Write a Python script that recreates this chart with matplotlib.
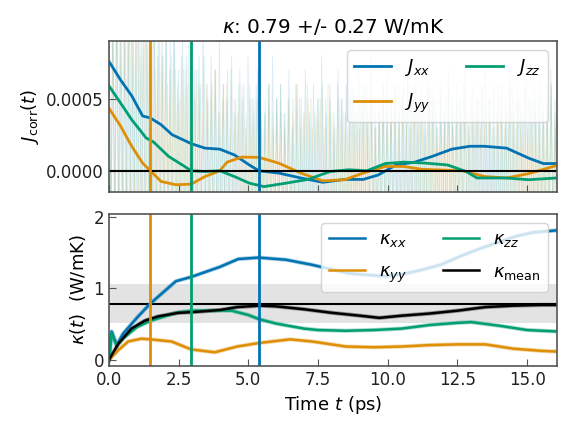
import numpy as np
import matplotlib
matplotlib.use("Agg")
import matplotlib.pyplot as plt

# ─────────────────────────────────────────────
# Data
# ─────────────────────────────────────────────
T_MAX = 16.07
KAPPA = 0.79
KAPPA_ERR = 0.27
CUTOFFS = {"xx": 5.38, "yy": 1.49, "zz": 2.95}

# smoothed heat-flux autocorrelation
t_jxx = [0.0, 0.42, 0.82, 1.21, 1.49, 1.87, 2.27, 2.66, 2.95, 3.45, 3.98, 4.5, 5.04, 5.38,
         6.09, 6.88, 7.67, 8.46, 9.12, 9.65, 10.3, 10.97, 11.6, 12.3, 12.95, 13.47, 14.26,
         15.05, 15.58, 16.07]
j_xx = [7.6e-4, 6.3e-4, 5.2e-4, 3.8e-4, 3.66e-4, 3.2e-4, 2.5e-4, 2.15e-4, 1.88e-4, 1.57e-4,
        1.5e-4, 1.1e-4, 0.4e-4, 0.0, -0.16e-4, -0.5e-4, -0.8e-4, -0.6e-4, -0.6e-4, -0.3e-4,
        0.4e-4, 0.6e-4, 1.0e-4, 1.5e-4, 1.7e-4, 1.7e-4, 1.57e-4, 0.88e-4, 0.5e-4, 0.5e-4]

t_jyy = [0.0, 0.42, 0.82, 1.21, 1.49, 1.87, 2.4, 2.95, 3.45, 3.98, 4.24, 4.77, 5.38, 6.09,
         6.88, 7.67, 8.46, 9.12, 9.91, 10.57, 11.23, 12.68, 13.47, 14.26, 15.05, 16.07]
j_yy = [4.35e-4, 3.1e-4, 1.7e-4, 0.53e-4, 0.0, -0.74e-4, -0.97e-4, -0.93e-4, -0.4e-4, 0.0,
        0.6e-4, 0.95e-4, 0.93e-4, 0.53e-4, -0.16e-4, -0.7e-4, -0.62e-4, -0.16e-4, 0.3e-4,
        0.3e-4, 0.1e-4, 0.0, -0.4e-4, -0.5e-4, -0.2e-4, 0.37e-4]

t_jzz = [0.0, 0.42, 0.82, 1.34, 1.6, 2.14, 2.66, 2.95, 3.45, 3.98, 4.5, 5.04, 5.56, 6.35,
         7.14, 7.94, 8.6, 9.25, 9.91, 10.57, 11.36, 12.15, 12.81, 13.2, 14.26, 15.05, 16.07]
j_zz = [5.9e-4, 4.7e-4, 3.54e-4, 2.27e-4, 2.0e-4, 1.0e-4, 0.37e-4, 0.0, -0.05e-4, 0.0,
        -0.4e-4, -0.86e-4, -1.1e-4, -0.86e-4, -0.6e-4, -0.05e-4, 0.07e-4, 0.0, 0.5e-4,
        0.6e-4, 0.53e-4, 0.4e-4, -0.05e-4, -0.5e-4, -0.5e-4, -0.62e-4, -0.5e-4]

# raw (unsmoothed) flux correlation: peak heights in units of 1e-4, trough value
raw_xx_peaks = [14, 11, 15, 9, 12, 13, 10, 14, 9, 12, 11, 13, 8, 10, 12, 9, 11, 7, 10, 8,
                9, 7, 8, 10, 6, 8, 7, 9, 6, 7, 8, 5, 7, 6, 8, 5, 6, 7, 4, 6, 8, 5, 6, 4,
                7, 5, 6, 5, 7, 4, 6, 5, 8, 5, 6, 4, 7, 5, 6, 6, 4, 7, 5, 6, 8, 5, 4, 6,
                7, 5, 6, 4, 6, 7, 5, 6, 5, 4, 7, 6, 5, 6, 4, 7, 5, 6, 5, 7, 4, 6, 5, 6,
                7, 5, 6, 4, 6, 5, 7, 5, 6, 4, 7, 5, 6, 5, 4, 6, 7, 5]
raw_yy_peaks = [13, 10, 12, 14, 9, 11, 10, 12, 8, 11, 9, 10, 7, 9, 8, 6, 8, 7, 5, 7,
                6, 8, 5, 6, 4, 6, 5, 7, 4, 5, 6, 3, 5, 4, 6, 3, 5, 4, 5, 3, 4, 6, 3, 5,
                4, 3, 5, 4, 6, 3, 4, 5, 3, 4, 5, 3, 6, 4, 3, 5, 4, 3, 5, 4, 3, 6, 4, 5,
                3, 4, 5, 3, 4, 6, 3, 5, 4, 3, 5, 4, 6, 3, 4, 5, 3, 4, 5, 4, 3, 5, 4, 6,
                3, 4, 5, 3, 4, 5, 3, 4, 5, 3, 4, 6, 3, 5, 4, 3, 5, 4, 3, 5, 4, 6, 3]
raw_zz_peaks = [15, 12, 13, 10, 14, 11, 12, 9, 13, 10, 11, 8, 10, 12, 8, 9, 7, 10, 6, 8,
                7, 9, 5, 7, 6, 8, 5, 6, 7, 4, 6, 5, 7, 4, 6, 5, 4, 6, 5, 7, 4, 5, 6, 4,
                5, 6, 4, 5, 3, 6, 5, 4, 6, 5, 4, 5, 6, 4, 5, 3, 6, 5, 4, 5, 6, 4, 5, 6,
                4, 5, 3, 5, 6, 4, 5, 4, 6, 5, 4, 5, 6, 4, 5, 4, 6, 5, 3, 5, 4, 6, 5, 4,
                5, 6, 4, 5, 4, 5, 6, 4, 5, 3, 6, 4, 5, 6, 4, 5, 4, 6, 5, 4, 5, 6, 4, 5,
                6, 4]
raw_trough = [-6.0, -4.0, -5.0]

# cumulative thermal conductivity
t_kxx = [0.0, 0.1, 0.28, 0.51, 1.05, 1.49, 2.4, 2.95, 3.98, 4.64, 5.38, 6.35, 7.28, 7.94,
         8.6, 9.25, 9.9, 10.57, 11.23, 11.9, 12.55, 13.2, 13.87, 14.53, 15.19, 16.07]
k_xx = [0.0, 0.40, 0.21, 0.37, 0.61, 0.79, 1.10, 1.16, 1.30, 1.41, 1.43, 1.40, 1.33, 1.27,
        1.21, 1.19, 1.17, 1.20, 1.26, 1.33, 1.44, 1.54, 1.63, 1.72, 1.78, 1.81]

t_kyy = [0.0, 0.34, 0.69, 1.17, 1.5, 2.25, 2.95, 3.8, 4.6, 5.4, 6.5, 7.3, 8.5, 9.5, 10.5,
         11.5, 12.5, 13.5, 14.5, 15.5, 16.07]
k_yy = [0.0, 0.14, 0.26, 0.30, 0.29, 0.26, 0.15, 0.11, 0.19, 0.24, 0.29, 0.26, 0.19, 0.18,
        0.19, 0.21, 0.22, 0.22, 0.16, 0.13, 0.12]

t_kzz = [0.0, 0.1, 0.28, 0.5, 1.0, 1.5, 2.4, 2.95, 3.5, 4.4, 5.0, 5.4, 6.0, 7.0, 7.5, 8.5,
         9.5, 10.5, 11.5, 12.5, 13.0, 14.0, 15.0, 16.07]
k_zz = [0.0, 0.38, 0.20, 0.30, 0.46, 0.55, 0.66, 0.69, 0.69, 0.69, 0.63, 0.57, 0.51, 0.44,
        0.42, 0.41, 0.42, 0.44, 0.49, 0.52, 0.53, 0.48, 0.42, 0.40]

t_kmean = [0.0, 0.34, 0.81, 1.29, 1.77, 2.49, 3.0, 4.0, 4.6, 5.4, 6.0, 7.0, 8.0, 9.0, 9.7,
           10.5, 11.5, 12.5, 13.5, 14.5, 15.5, 16.07]
k_mean = [0.0, 0.23, 0.44, 0.55, 0.61, 0.66, 0.67, 0.70, 0.74, 0.76, 0.75, 0.71, 0.66, 0.62,
          0.59, 0.62, 0.65, 0.69, 0.74, 0.76, 0.77, 0.77]

COLORS = {"xx": "#0173B2", "yy": "#DE8F05", "zz": "#029E73"}

plt.rcParams.update({
    "font.size": 12,
    "axes.labelsize": 13,
    "axes.edgecolor": "#555555",
    "axes.linewidth": 1.2,
    "xtick.direction": "in",
    "ytick.direction": "in",
    "xtick.major.size": 5,
    "ytick.major.size": 5,
    "xtick.color": "#555555",
    "ytick.color": "#555555",
    "xtick.labelcolor": "#222222",
    "ytick.labelcolor": "#222222",
})

fig = plt.figure(figsize=(5.76, 4.32), dpi=100)
ax1 = fig.add_axes([0.189, 0.556, 0.778, 0.349])
ax2 = fig.add_axes([0.189, 0.153, 0.778, 0.352], sharex=ax1)

# ─────────────────────────────────────────────
# Top: flux autocorrelation
# ─────────────────────────────────────────────
for (key, peaks), trough in zip(
        [("xx", raw_xx_peaks), ("yy", raw_yy_peaks), ("zz", raw_zz_peaks)], raw_trough):
    raw = np.empty(2 * len(peaks))
    raw[0::2] = np.array(peaks) * 1e-4
    raw[1::2] = trough * 1e-4
    t_raw = np.linspace(0, T_MAX, len(raw))
    ax1.plot(t_raw, raw, color=COLORS[key], lw=0.6, alpha=0.15)

ax1.plot(t_jxx, j_xx, color=COLORS["xx"], lw=2, label=r"$J_{xx}$")
ax1.plot(t_jyy, j_yy, color=COLORS["yy"], lw=2, label=r"$J_{yy}$")
ax1.plot(t_jzz, j_zz, color=COLORS["zz"], lw=2, label=r"$J_{zz}$")
ax1.axhline(0, color="black", lw=1.5)
for key, tc in CUTOFFS.items():
    ax1.axvline(tc, color=COLORS[key], lw=2)

ax1.set_ylim(-0.000146, 0.0009)
ax1.set_yticks([0.0, 0.0005])
ax1.set_yticklabels(["0.0000", "0.0005"])
ax1.set_ylabel(r"$J_\mathrm{corr}(t)$")
ax1.tick_params(labelbottom=False)
ax1.set_title(rf"$\kappa$: {KAPPA:.2f} +/- {KAPPA_ERR:.2f} W/mK", fontsize=14.4)
ax1.legend(ncol=2, loc="upper right", fontsize=13, handlelength=2.0,
           columnspacing=2.0, labelspacing=0.75)

# ─────────────────────────────────────────────
# Bottom: cumulative kappa
# ─────────────────────────────────────────────
ax2.axhspan(KAPPA - KAPPA_ERR, KAPPA + KAPPA_ERR, color="#e3e3e3", lw=0)
ax2.axhline(KAPPA, color="black", lw=1.5)

ax2.plot(t_kxx, k_xx, color=COLORS["xx"], lw=3, alpha=0.35)
ax2.plot(t_kyy, k_yy, color=COLORS["yy"], lw=3, alpha=0.35)
ax2.plot(t_kzz, k_zz, color=COLORS["zz"], lw=3, alpha=0.35)
ax2.plot(t_kmean, k_mean, color="black", lw=3, alpha=0.35)
ax2.plot(t_kxx, k_xx, color=COLORS["xx"], lw=1.8, label=r"$\kappa_{xx}$")
ax2.plot(t_kyy, k_yy, color=COLORS["yy"], lw=1.8, label=r"$\kappa_{yy}$")
ax2.plot(t_kzz, k_zz, color=COLORS["zz"], lw=1.8, label=r"$\kappa_{zz}$")
ax2.plot(t_kmean, k_mean, color="black", lw=1.8, label=r"$\kappa_\mathrm{mean}$")
for key, tc in CUTOFFS.items():
    ax2.axvline(tc, color=COLORS[key], lw=2)

ax2.set_ylim(-0.08, 2.04)
ax2.set_yticks([0, 1, 2])
ax2.set_xlim(0, T_MAX)
ax2.set_xticks(np.arange(0, 16, 2.5))
ax2.set_xlabel(r"Time $t$ (ps)")
ax2.set_ylabel(r"$\kappa(t)$  (W/mK)")
ax2.legend(ncol=2, loc="upper right", fontsize=13, handlelength=2.0,
           columnspacing=2.0, labelspacing=0.75)

fig.savefig("out.png", dpi=100)
